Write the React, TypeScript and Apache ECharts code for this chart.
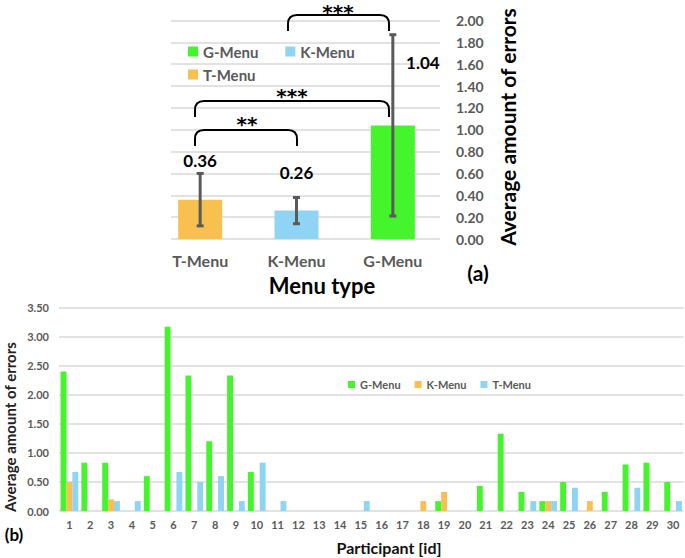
import React, { useEffect, useRef } from "react";
import * as echarts from "echarts";

// ---------- Data ----------
const topCategories = ["T-Menu", "K-Menu", "G-Menu"];
const topMeans = [0.36, 0.26, 1.04];
const topErrors = [0.24, 0.12, 0.83];
const topLegendOrder = ["G-Menu", "K-Menu", "T-Menu"];
const topYTicks = [0, 0.2, 0.4, 0.6, 0.8, 1.0, 1.2, 1.4, 1.6, 1.8, 2.0];

const participants = Array.from({ length: 30 }, (_, i) => String(i + 1));
const gMenu = [2.40, 0.83, 0.83, 0, 0.60, 3.17, 2.33, 1.20, 2.33, 0.67, 0, 0, 0, 0, 0, 0, 0, 0, 0.17, 0, 0.43, 1.33, 0.33, 0.17, 0.50, 0, 0.33, 0.80, 0.83, 0.50];
const kMenu = [0.50, 0, 0.20, 0, 0, 0, 0, 0, 0, 0, 0, 0, 0, 0, 0, 0, 0, 0.17, 0.33, 0, 0, 0, 0, 0.17, 0, 0.17, 0, 0, 0, 0];
const tMenu = [0.67, 0, 0.17, 0.17, 0, 0.67, 0.50, 0.60, 0.17, 0.83, 0.17, 0, 0, 0, 0.17, 0, 0, 0, 0, 0, 0, 0, 0.17, 0.17, 0.40, 0, 0, 0.40, 0, 0.17];
const bottomYTicks = [0, 0.5, 1, 1.5, 2, 2.5, 3, 3.5];

// ---------- Styles ----------
const GREEN = "#45f52c";
const ORANGE = "#f8c04f";
const BLUE = "#8fd3f5";
const GRAY = "#595959";
const GRID = "#d9d9d9";
const FONT = "Lato, 'Open Sans', sans-serif";
const STAR_FONT = "'DejaVu Sans', sans-serif";
const topColors: Record<string, string> = { "T-Menu": ORANGE, "K-Menu": BLUE, "G-Menu": GREEN };
const topLabelOffsets = [[0, -31], [0, -30], [30, -54]];

let registered = false;
function registerBracket() {
  if (registered) return;
  registered = true;
  const Bracket = (echarts.graphic as any).extendShape({
    shape: { x1: 0, x2: 0, yTop: 0, yEnd: 0, r: 9 },
    buildPath(ctx: any, s: any) {
      ctx.moveTo(s.x1, s.yEnd);
      ctx.lineTo(s.x1, s.yTop + s.r);
      ctx.quadraticCurveTo(s.x1, s.yTop, s.x1 + s.r, s.yTop);
      ctx.lineTo(s.x2 - s.r, s.yTop);
      ctx.quadraticCurveTo(s.x2, s.yTop, s.x2, s.yTop + s.r);
      ctx.lineTo(s.x2, s.yEnd);
    },
  });
  echarts.graphic.registerShape("bracket", Bracket);
}

function bracket(x1: number, x2: number, yTop: number, yEnd: number) {
  return {
    type: "bracket",
    shape: { x1, x2, yTop, yEnd, r: 9 },
    style: { stroke: "#000", lineWidth: 2, fill: null },
    z: 10,
  } as any;
}

function stars(text: string, x: number, y: number) {
  return {
    type: "text",
    x,
    y,
    style: { text, fill: "#000", font: `bold 20px ${STAR_FONT}`, textAlign: "center", textVerticalAlign: "middle" },
    z: 10,
  } as any;
}

export default function App() {
  const ref = useRef<HTMLDivElement>(null);

  useEffect(() => {
    if (!ref.current) return;
    registerBracket();
    const chart = echarts.init(ref.current, undefined, { renderer: "svg" });

    const topBarSeries = topCategories.map((name, k) => ({
      name,
      type: "bar",
      xAxisIndex: 1,
      yAxisIndex: 1,
      barWidth: 44,
      barGap: "-100%",
      itemStyle: { color: topColors[name] },
      label: {
        show: true,
        position: "top",
        distance: 0,
        color: "#000",
        fontFamily: FONT,
        fontWeight: "bold",
        fontSize: 17,
        formatter: (p: any) => Number(p.value).toFixed(2),
        offset: topLabelOffsets[k],
      },
      data: topMeans.map((v, i) => (i === k ? v : "-")),
    }));

    const errorData = topMeans.map((m, i) => [i, m - topErrors[i], m + topErrors[i]]);

    const option: any = {
      animation: false,
      backgroundColor: "#fff",
      textStyle: { fontFamily: FONT },
      grid: [
        { left: 171, width: 269, top: 20.5, height: 218.5 },
        { left: 152, width: 289, top: 20.5, height: 218.5 },
        { left: 59, right: 1.5, top: 307.5, height: 203.5 },
      ],
      xAxis: [
        { gridIndex: 0, type: "category", data: topCategories, show: false },
        {
          gridIndex: 1,
          type: "category",
          data: topCategories,
          axisLine: { show: false },
          axisTick: { show: false },
          axisLabel: { color: GRAY, fontFamily: FONT, fontWeight: "bold", fontSize: 16, margin: 13 },
        },
        {
          gridIndex: 2,
          type: "category",
          data: participants,
          axisLine: { show: false },
          axisTick: { show: false },
          axisLabel: { color: GRAY, fontFamily: FONT, fontWeight: "bold", fontSize: 11, margin: 8, interval: 0 },
        },
      ],
      yAxis: [
        {
          gridIndex: 0,
          type: "value",
          position: "right",
          min: topYTicks[0],
          max: topYTicks[topYTicks.length - 1],
          interval: 0.2,
          axisLine: { show: false },
          axisTick: { show: false },
          axisLabel: { color: GRAY, fontFamily: FONT, fontWeight: "bold", fontSize: 14, margin: 16, formatter: (v: number) => v.toFixed(2) },
          splitLine: { lineStyle: { color: GRID, width: 1.5 } },
        },
        { gridIndex: 1, type: "value", min: 0, max: 2, show: false, splitLine: { show: false } },
        {
          gridIndex: 2,
          type: "value",
          min: bottomYTicks[0],
          max: bottomYTicks[bottomYTicks.length - 1],
          interval: 0.5,
          axisLine: { show: false },
          axisTick: { show: false },
          axisLabel: { color: GRAY, fontFamily: FONT, fontWeight: "bold", fontSize: 11, margin: 10, formatter: (v: number) => v.toFixed(2) },
          splitLine: { lineStyle: { color: GRID, width: 1.5 } },
        },
      ],
      legend: [
        {
          data: topLegendOrder.slice(0, 2),
          left: 183,
          top: 39,
          icon: "rect",
          itemWidth: 10,
          itemHeight: 10,
          itemGap: 27,
          selectedMode: false,
          textStyle: { color: GRAY, fontFamily: FONT, fontWeight: "bold", fontSize: 15 },
        },
        {
          data: topLegendOrder.slice(2),
          left: 183,
          top: 62,
          icon: "rect",
          itemWidth: 10,
          itemHeight: 10,
          selectedMode: false,
          textStyle: { color: GRAY, fontFamily: FONT, fontWeight: "bold", fontSize: 15 },
        },
        {
          data: ["b:G-Menu", "b:K-Menu", "b:T-Menu"],
          left: 343,
          top: 374,
          icon: "rect",
          itemWidth: 7,
          itemHeight: 7,
          itemGap: 14,
          selectedMode: false,
          formatter: (n: string) => n.slice(2),
          textStyle: { color: GRAY, fontFamily: FONT, fontWeight: "bold", fontSize: 11 },
        },
      ],
      series: [
        ...topBarSeries,
        {
          type: "custom",
          xAxisIndex: 1,
          yAxisIndex: 1,
          z: 5,
          encode: { x: 0, y: [1, 2] },
          data: errorData,
          renderItem: (params: any, api: any) => {
            const lo = api.coord([api.value(0), api.value(1)]);
            const hi = api.coord([api.value(0), api.value(2)]);
            const w = 3.5;
            const st = { stroke: "#5a5a5a", lineWidth: 3, fill: null };
            return {
              type: "group",
              children: [
                { type: "line", shape: { x1: lo[0], y1: lo[1], x2: hi[0], y2: hi[1] }, style: st },
                { type: "line", shape: { x1: lo[0] - w, y1: lo[1], x2: lo[0] + w, y2: lo[1] }, style: st },
                { type: "line", shape: { x1: hi[0] - w, y1: hi[1], x2: hi[0] + w, y2: hi[1] }, style: st },
              ],
            };
          },
        },
        {
          name: "b:G-Menu",
          type: "bar",
          xAxisIndex: 2,
          yAxisIndex: 2,
          barGap: 0,
          barCategoryGap: "15%",
          itemStyle: { color: GREEN },
          data: gMenu,
        },
        {
          name: "b:K-Menu",
          type: "bar",
          xAxisIndex: 2,
          yAxisIndex: 2,
          barGap: 0,
          barCategoryGap: "15%",
          itemStyle: { color: ORANGE },
          data: kMenu,
        },
        {
          name: "b:T-Menu",
          type: "bar",
          xAxisIndex: 2,
          yAxisIndex: 2,
          barGap: 0,
          barCategoryGap: "15%",
          itemStyle: { color: BLUE },
          data: tMenu,
        },
      ],
      graphic: [
        bracket(195, 297, 130, 146),
        bracket(195, 389, 101, 117),
        bracket(288, 389, 15, 31),
        stars("**", 247, 124),
        stars("***", 292, 96),
        stars("***", 338, 12),
        {
          type: "text",
          x: 322,
          y: 285,
          style: { text: "Menu type", fill: "#000", font: `bold 22px ${FONT}`, textAlign: "center", textVerticalAlign: "middle" },
        },
        {
          type: "text",
          x: 478,
          y: 272,
          style: { text: "(a)", fill: "#000", font: `bold 21px ${FONT}`, textAlign: "center", textVerticalAlign: "middle" },
        },
        {
          type: "text",
          x: 507,
          y: 127,
          rotation: Math.PI / 2,
          style: { text: "Average amount of errors", fill: "#000", font: `bold 21px ${FONT}`, textAlign: "center", textVerticalAlign: "middle" },
        },
        {
          type: "text",
          x: 10,
          y: 427,
          rotation: Math.PI / 2,
          style: { text: "Average amount of errors", fill: "#222", font: `bold 15px ${FONT}`, textAlign: "center", textVerticalAlign: "middle" },
        },
        {
          type: "text",
          x: 389,
          y: 547,
          style: { text: "Participant [id]", fill: "#111", font: `bold 16px ${FONT}`, textAlign: "center", textVerticalAlign: "middle" },
        },
        {
          type: "text",
          x: 14,
          y: 534,
          style: { text: "(b)", fill: "#000", font: `bold 17px ${FONT}`, textAlign: "center", textVerticalAlign: "middle" },
        },
      ],
    };

    chart.setOption(option);
    return () => chart.dispose();
  }, []);

  return <div ref={ref} style={{ position: "fixed", left: 0, top: 0, width: 685, height: 558 }} />;
}
